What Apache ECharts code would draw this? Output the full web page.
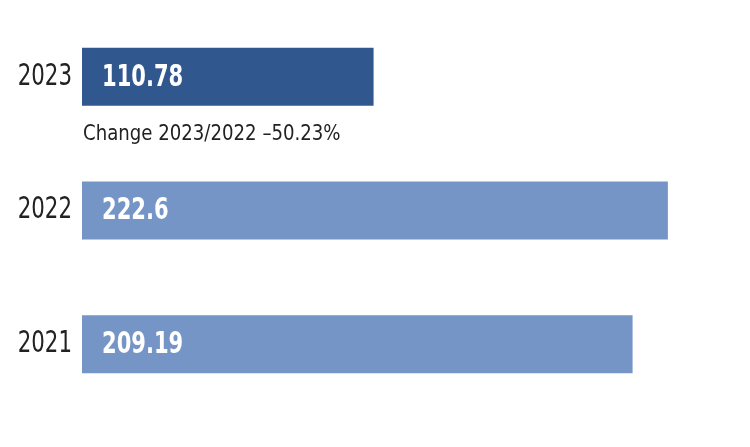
<!DOCTYPE html>
<html>
<head>
<meta charset="utf-8">
<script src="https://cdn.jsdelivr.net/npm/echarts@6/dist/echarts.min.js"></script>
<style>html,body{margin:0;padding:0;background:#fff}#c{width:750px;height:447px}</style>
</head>
<body>
<div id="c"></div>
<script>
const categories = ['2021', '2022', '2023'];
const values = [209.19, 222.6, 110.78];
const barColors = ['#7695c7', '#7695c7', '#31578f'];
const labels = ['209.19', '222.6', '110.78'];
const note = 'Change 2023/2022 \u201350.23%';

const FONT = '"DejaVu Sans Condensed", "DejaVu Sans", sans-serif';
const chart = echarts.init(document.getElementById('c'));
chart.setOption({
  animation: false,
  backgroundColor: '#fff',
  grid: { left: 82, right: 10, top: 10, bottom: 36 },
  xAxis: { type: 'value', min: 0, max: 250, show: false },
  yAxis: {
    type: 'category', data: categories,
    axisLine: { show: false }, axisTick: { show: false }, splitLine: { show: false },
    axisLabel: { show: false }
  },
  series: [{
    type: 'bar',
    barWidth: 58,
    z: 2,
    data: values.map((v, i) => ({ value: v, itemStyle: { color: barColors[i] } })),
    label: { show: false }
  }]
});

// Narrow (condensed) text: draw labels via graphic with horizontal scaling,
// positioned from the library's own axis scales.
const x0 = chart.convertToPixel({ xAxisIndex: 0 }, 0);
const graphics = [];
categories.forEach((c, i) => {
  const yc = chart.convertToPixel({ yAxisIndex: 0 }, c);
  graphics.push({
    type: 'text', x: x0 - 10, y: yc, scaleX: 0.79, z: 100,
    style: { text: c, fill: '#222', font: '30px ' + FONT, align: 'right', verticalAlign: 'middle' }
  });
  graphics.push({
    type: 'text', x: x0 + 20, y: yc + 1, scaleX: 0.78, z: 100,
    style: { text: labels[i], fill: '#ffffff', font: 'bold 30px ' + FONT, align: 'left', verticalAlign: 'middle' }
  });
});
const y2023 = chart.convertToPixel({ yAxisIndex: 0 }, '2023');
graphics.push({
  type: 'text', x: x0 + 1, y: y2023 + 47, scaleX: 0.96, z: 100,
  style: { text: note, fill: '#222', font: '21px ' + FONT, align: 'left', verticalAlign: 'top' }
});
chart.setOption({ graphic: graphics });
</script>
</body>
</html>
